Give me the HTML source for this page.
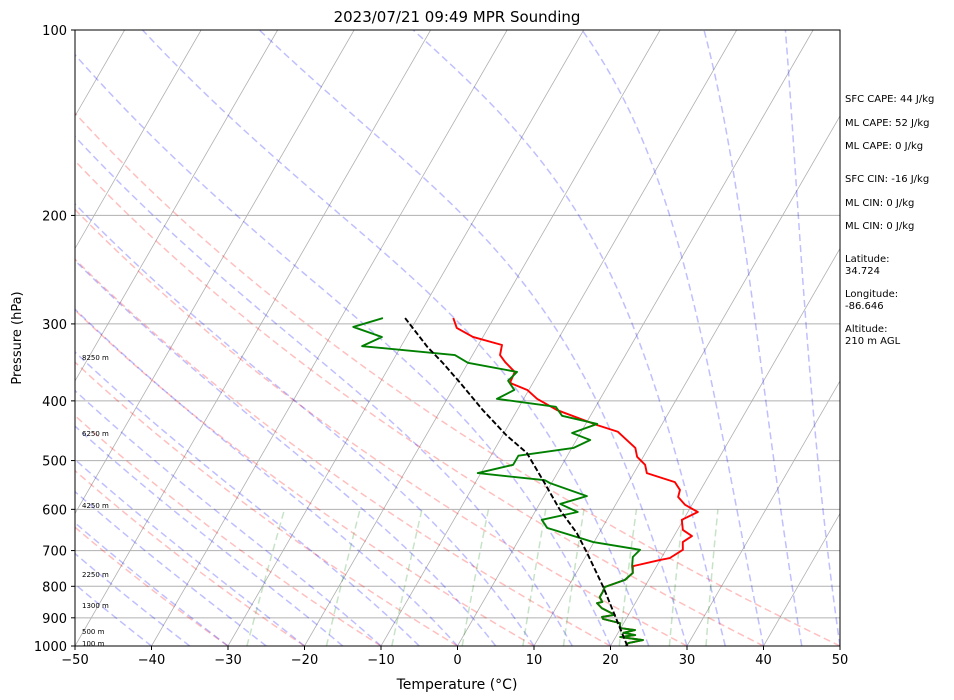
<!DOCTYPE html>
<html><head><meta charset="utf-8"><style>
body{margin:0;background:#fff}
svg{display:block;font-family:"DejaVu Sans","Liberation Sans",sans-serif}
</style></head><body>
<svg id="chart" width="954" height="700" viewBox="0 0 954 700">
<defs><clipPath id="plotclip"><rect x="75" y="30" width="765" height="616"/></clipPath></defs>
<rect width="954" height="700" fill="#fff"/>
<g id="bg" clip-path="url(#plotclip)"></g>
<g id="series" clip-path="url(#plotclip)"></g>
<rect x="75" y="30" width="765" height="616" fill="none" stroke="#000" stroke-width="1"/>
<g id="axes"></g>
<text x="457" y="22" text-anchor="middle" font-size="15">2023/07/21 09:49 MPR Sounding</text>
<text x="457" y="689" text-anchor="middle" font-size="14">Temperature (°C)</text>
<text x="21" y="338" text-anchor="middle" font-size="13" transform="rotate(-90 21 338)">Pressure (hPa)</text>
<g font-size="10">
<text x="845" y="102">SFC CAPE: 44 J/kg</text>
<text x="845" y="126">ML CAPE: 52 J/kg</text>
<text x="845" y="149">ML CAPE: 0 J/kg</text>
<text x="845" y="182">SFC CIN: -16 J/kg</text>
<text x="845" y="206">ML CIN: 0 J/kg</text>
<text x="845" y="229">ML CIN: 0 J/kg</text>
<text x="845" y="262">Latitude:</text>
<text x="845" y="274">34.724</text>
<text x="845" y="297">Longitude:</text>
<text x="845" y="309">-86.646</text>
<text x="845" y="332">Altitude:</text>
<text x="845" y="344">210 m AGL</text>
</g>
<g font-size="7">
<text x="82" y="360">8250 m</text>
<text x="82" y="436">6250 m</text>
<text x="82" y="508">4250 m</text>
<text x="82" y="577">2250 m</text>
<text x="82" y="608">1300 m</text>
<text x="82" y="634">500 m</text>
<text x="82" y="646">100 m</text>
</g>
</svg>
<script>
// ---- data ----
const tempP = [293.5,304.6,315,324.6,337,346,359,374,384,397,414,438,449,477,493,508,524,542,558,573,590,606,624,648,663,678,698,720,725,742,761,781,802,817,833,848,852,868,890,897,904,918,935,942,952,960,967,978,989,1000];
const tempT = [-25.3,-24.1,-21.3,-16.9,-16.4,-15.2,-13.2,-13.0,-10.2,-8.25,-4.8,1.6,4.8,8.3,9.2,10.85,11.7,16.05,17.3,17.6,19.1,21.3,19.8,20.7,22.35,21.6,22.2,21.1,20.0,16.9,17.4,16.9,14.8,14.9,14.9,15.6,15.0,16.0,18.2,16.7,17.0,19.5,19.9,22.0,20.7,22.4,20.6,23.8,22.1,22.0];
const dewP = [293.5,303.4,315,326,337,347,359,371,384,397,409,423,436,451,463,477,491,508,524,538,544,571,588,606,624,643,678,698,717,742,761,781,802,817,833,848,852,868,890,897,904,918,935,942,952,960,967,978,989,1000];
const dewT = [-34.5,-37.7,-33.2,-35.1,-22.3,-20.0,-12.9,-13.4,-11.9,-13.5,-5.2,-3.7,1.5,-1.1,1.8,0.2,-6.4,-6.4,-10.4,-1.1,-0.2,5.6,2.7,5.6,1.5,2.8,9.9,16.6,16.2,16.8,17.4,16.9,14.8,14.9,14.9,15.6,15.0,16.0,18.2,16.7,17.0,19.5,19.9,22.0,20.7,22.4,20.6,23.8,22.1,22.0];
const parcelP = [1000,802,704,656,601,544,486,455,414,374,347,327,293.5];
const parcelT = [22.2,14.6,9.8,7.1,3.1,-0.9,-5.5,-9.5,-14.5,-19.5,-23.3,-26.5,-31.6];
const xTicks = [-50,-40,-30,-20,-10,0,10,20,30,40,50];
const yTicks = [100,200,300,400,500,600,700,800,900,1000];
const dryStart = [-30,-20,-10,0,10,20,30,40,50];
const moistStart = [-40,-35,-30,-25,-20,-15,-10,-5,0,5,10,15,20,25,30,35,40,45,50];
const mixRatios = [0.4,1,2,4,7,10,16,24,32];

// ---- axes ----
const L=75,R=840,T0=30,B=646;
function yOf(p){return B-616*Math.log10(1000/p);}
function xOf(t,p){return L+(t+50)*7.65+(B-yOf(p))*0.57735;}
const NS='http://www.w3.org/2000/svg';
function mk(tag,attrs,parent){const e=document.createElementNS(NS,tag);for(const k in attrs)e.setAttribute(k,attrs[k]);parent.appendChild(e);return e;}
function pathFrom(ps,ts){let d='';for(let i=0;i<ps.length;i++){d+=(i?'L':'M')+xOf(ts[i],ps[i]).toFixed(2)+' '+yOf(ps[i]).toFixed(2);}return d;}
const bg=document.getElementById('bg'),ser=document.getElementById('series'),ax=document.getElementById('axes');

// isobars
for(const p of yTicks){if(p===100||p===1000)continue;
 const l=mk('line',{x1:L,x2:R,y1:yOf(p),y2:yOf(p),stroke:'#b0b0b0','stroke-width':1},bg);
 
 }
// isotherms
for(let t=-150;t<=50;t+=10){
 const l=mk('line',{x1:xOf(t,1000),y1:yOf(1000),x2:xOf(t,100),y2:yOf(100),stroke:'#b0b0b0','stroke-width':0.8},bg);
 
 }
// dry adiabats
for(const t0 of dryStart){const th=t0+273.15;const ps=[],ts=[];
 for(let p=1000;p>=100;p-=10){ps.push(p);ts.push(th*Math.pow(p/1000,0.2857)-273.15);}
 const e=mk('path',{d:pathFrom(ps,ts),fill:'none',stroke:'rgba(255,0,0,0.25)','stroke-width':1.5,'stroke-dasharray':'7,4'},bg);
 
 }
// moist adiabats
function es(tc){return 6.112*Math.exp(17.67*tc/(tc+243.5));}
function dTdp(p,tk){const Rd=287.04,Cp=1005.7,Lv=2.501e6,eps=0.622;const e=es(tk-273.15);const rs=eps*e/(p-e);
 return (1/p)*(Rd*tk+Lv*rs)/(Cp+Lv*Lv*rs*eps/(Rd*tk*tk));}
for(const t0 of moistStart){let tk=t0+273.15;const ps=[1000],ts=[t0];
 for(let p=1000;p>100;p-=5){const h=-5;const k1=dTdp(p,tk),k2=dTdp(p+h/2,tk+h/2*k1),k3=dTdp(p+h/2,tk+h/2*k2),k4=dTdp(p+h,tk+h*k3);
  tk+=h/6*(k1+2*k2+2*k3+k4);ps.push(p+h);ts.push(tk-273.15);}
 const e=mk('path',{d:pathFrom(ps,ts),fill:'none',stroke:'rgba(0,0,255,0.25)','stroke-width':1.5,'stroke-dasharray':'7,4'},bg);
 
 }
// mixing ratio lines
for(const w of mixRatios){const ps=[],ts=[];
 for(let p=1000;p>=600;p-=10){const r=w/1000;const e=r*p/(0.622+r);const lg=Math.log(e/6.112);ps.push(p);ts.push(243.5*lg/(17.67-lg));}
 const e=mk('path',{d:pathFrom(ps,ts),fill:'none',stroke:'rgba(0,128,0,0.22)','stroke-width':1.5,'stroke-dasharray':'7,4'},bg);
 
 }

// series
const tl=mk('path',{d:pathFrom(tempP,tempT),fill:'none',stroke:'#ff0000','stroke-width':1.9,'stroke-linejoin':'round'},ser);


const dl=mk('path',{d:pathFrom(dewP,dewT),fill:'none',stroke:'#008000','stroke-width':1.9,'stroke-linejoin':'round'},ser);


const pl=mk('path',{d:pathFrom(parcelP,parcelT),fill:'none',stroke:'#000','stroke-width':1.9,'stroke-dasharray':'5.5,2.4'},ser);



// ticks
for(const t of xTicks){const x=L+(t+50)*7.65;
 const tk=mk('line',{x1:x,x2:x,y1:B,y2:B+4,stroke:'#000','stroke-width':1},ax);
 
 
 const lb=mk('text',{x:x,y:B+18,'text-anchor':'middle','font-size':13},ax);lb.textContent=(t<0?'\u2212'+(-t):t);
 
 }
for(const p of yTicks){const y=yOf(p);
 const tk=mk('line',{x1:L-4,x2:L,y1:y,y2:y,stroke:'#000','stroke-width':1},ax);
 
 
 const lb=mk('text',{x:L-8,y:y+5,'text-anchor':'end','font-size':13},ax);lb.textContent=p;
 
 }
</script>
</body></html>
